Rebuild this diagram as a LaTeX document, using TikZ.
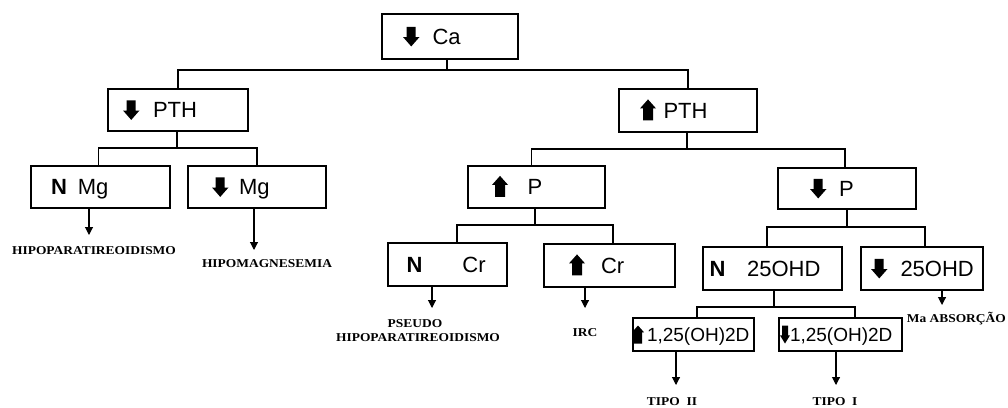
\documentclass[tikz,border=0pt]{standalone}
\usepackage{fontspec}
\setmainfont{Liberation Sans}
\newfontfamily\lblfont{Liberation Serif}[FakeStretch=1.12]
\usetikzlibrary{arrows.meta}
% block arrows (22pt text)
\newcommand\dnA{\tikz[x=1pt,y=1pt,baseline=0pt]\fill (3.5,17.6)--(12.5,17.6)--(12.5,7.4)--(16.5,7.4)--(8.25,-2)--(0,7.4)--(3.5,7.4)--cycle;}
\newcommand\upA{\tikz[x=1pt,y=1pt,baseline=0pt]\fill (8,19)--(16,10)--(13,10)--(13,-2)--(3,-2)--(3,10)--(0,10)--cycle;}
% block arrows (19pt text)
\newcommand\upS{\tikz[x=1pt,y=1pt,baseline=0pt]\fill (6,15.8)--(12,9)--(10,9)--(10,-2.2)--(2,-2.2)--(2,9)--(0,9)--cycle;}
\newcommand\dnS{\tikz[x=1pt,y=1pt,baseline=0pt]\fill (2,15.8)--(8,15.8)--(8,6)--(10,6)--(5,-2.2)--(0,6)--(2,6)--cycle;}
\newcommand\bxA[2]{\makebox[#1pt][l]{\rule[-6pt]{0pt}{27.8pt}#2}}
\newcommand\bxS[2]{\makebox[#1pt][l]{\rule[-6pt]{0pt}{25.6pt}#2}}
\newcommand\hs[1]{\hspace*{#1pt}}
\begin{document}
\begin{tikzpicture}[x=1pt,y=-1pt,
  box/.style={draw, line width=1.3pt, inner sep=0pt, font=\fontsize{22}{24}\selectfont},
  sbox/.style={draw, line width=1.3pt, inner sep=0pt, font=\fontsize{19}{21}\selectfont},
  conn/.style={line width=1.3pt},
  outarr/.style={line width=1.1pt, -{Triangle[length=8pt,width=8pt]}},
  lbl/.style={inner sep=0pt, anchor=base, font=\lblfont\bfseries\fontsize{12}{13}\selectfont}]
\useasboundingbox (0,0) rectangle (1008,407);

% boxes
\node[box, minimum width=136pt, minimum height=45pt] (ca) at (450,36.5) {\bxA{136}{\hs{21}\dnA\hs{13}Ca}};
\node[box, minimum width=140pt, minimum height=42pt] (ptha) at (178,110) {\bxA{140}{\hs{15}\dnA\hs{13.5}PTH}};
\node[box, minimum width=138pt, minimum height=43pt] (pthb) at (688,110.5) {\bxA{138}{\hs{21}\upA\hs{7.5}PTH}};
\node[box, minimum width=139pt, minimum height=42pt] (nmg) at (100.5,187) {\bxA{139}{\hs{20}\textbf{N}\hs{11}Mg}};
\node[box, minimum width=138pt, minimum height=42pt] (dmg) at (257,187) {\bxA{138}{\hs{24}\dnA\hs{10.5}Mg}};
\node[box, minimum width=137pt, minimum height=42pt] (up) at (536.5,187) {\bxA{137}{\hs{24}\upA\hs{19.5}P}};
\node[box, minimum width=138pt, minimum height=41pt] (dp) at (847,188.5) {\bxA{138}{\hs{32}\dnA\hs{12.5}P}};
\node[box, minimum width=119pt, minimum height=43pt] (ncr) at (447.5,264.5) {\bxA{119}{\hs{18.5}\textbf{N}\hs{40}Cr}};
\node[box, minimum width=131pt, minimum height=43pt] (ucr) at (609.5,265.5) {\bxA{131}{\hs{25}\upA\hs{16}Cr}};
\node[box, minimum width=139pt, minimum height=43pt] (n25) at (772.5,268.5) {\bxA{139}{\hs{6.5}\textbf{N}\hs{21.7}25OHD}};
\node[box, minimum width=122pt, minimum height=43pt] (d25) at (922,268.5) {\bxA{122}{\hs{10}\dnA\hs{13}25OHD}};
\node[sbox, minimum width=121pt, minimum height=33pt] (u125) at (693.5,334.5) {\bxS{121}{\hs{-1}\upS\hs{3}1,25(OH)2D}};
\node[sbox, minimum width=123pt, minimum height=33pt] (d125) at (840.5,334.5) {\bxS{123}{\hs{1}\dnS\hs{0}1,25(OH)2D}};

% tree connectors
\coordinate (j0) at (447,70);
\draw[conn] (ca.south -| j0) -- (j0);
\draw[conn] (ptha.north) |- (j0) -| (pthb.north);
\coordinate (j1) at (177,148);
\draw[conn] (ptha.south -| j1) -- (j1);
\draw[conn] ([xshift=-2pt]nmg.north) |- (j1) -| (dmg.north);
\coordinate (j2) at (687,149);
\draw[conn] (pthb.south -| j2) -- (j2);
\draw[conn] ([xshift=-5pt]up.north) |- (j2) -| ([xshift=-2pt]dp.north);
\coordinate (j3) at (535,225);
\draw[conn] (up.south -| j3) -- (j3);
\draw[conn] ([xshift=9.5pt]ncr.north) |- (j3) -| ([xshift=3.5pt]ucr.north);
\coordinate (j4) at (847,227);
\draw[conn] (dp.south -| j4) -- (j4);
\draw[conn] ([xshift=-5.5pt]n25.north) |- (j4) -| ([xshift=3pt]d25.north);
\coordinate (j5) at (774,307);
\draw[conn] (n25.south -| j5) -- (j5);
\draw[conn] ([xshift=3.5pt]u125.north) |- (j5) -| ([xshift=14.5pt]d125.north);

% outcome arrows
\coordinate (t1) at (89,235);
\coordinate (t2) at (254,250);
\coordinate (t3) at (432,308);
\coordinate (t4) at (585,308);
\coordinate (t5) at (942,305);
\coordinate (t6) at (676,385);
\coordinate (t7) at (836,385);
\draw[outarr] (nmg.south -| t1) -- (t1);
\draw[outarr] (dmg.south -| t2) -- (t2);
\draw[outarr] (ncr.south -| t3) -- (t3);
\draw[outarr] (ucr.south -| t4) -- (t4);
\draw[outarr] (d25.south -| t5) -- (t5);
\draw[outarr] (u125.south -| t6) -- (t6);
\draw[outarr] (d125.south -| t7) -- (t7);

% outcome labels
\node[lbl] (l1) at (94,254) {HIPOPARATIREOIDISMO};
\node[lbl] (l2) at (267,267) {HIPOMAGNESEMIA};
\node[lbl] (l3a) at (415,327) {PSEUDO};
\node[lbl] (l3b) at (418,341) {HIPOPARATIREOIDISMO};
\node[lbl] (l4) at (585,336) {IRC};
\node[lbl, anchor=base east] (l5) at (1006,322) {Ma ABSORÇÃO};
\node[lbl] (l6) at (672,405) {TIPO\ \ II};
\node[lbl] (l7) at (835,405) {TIPO\ \ I};
\end{tikzpicture}
\end{document}
